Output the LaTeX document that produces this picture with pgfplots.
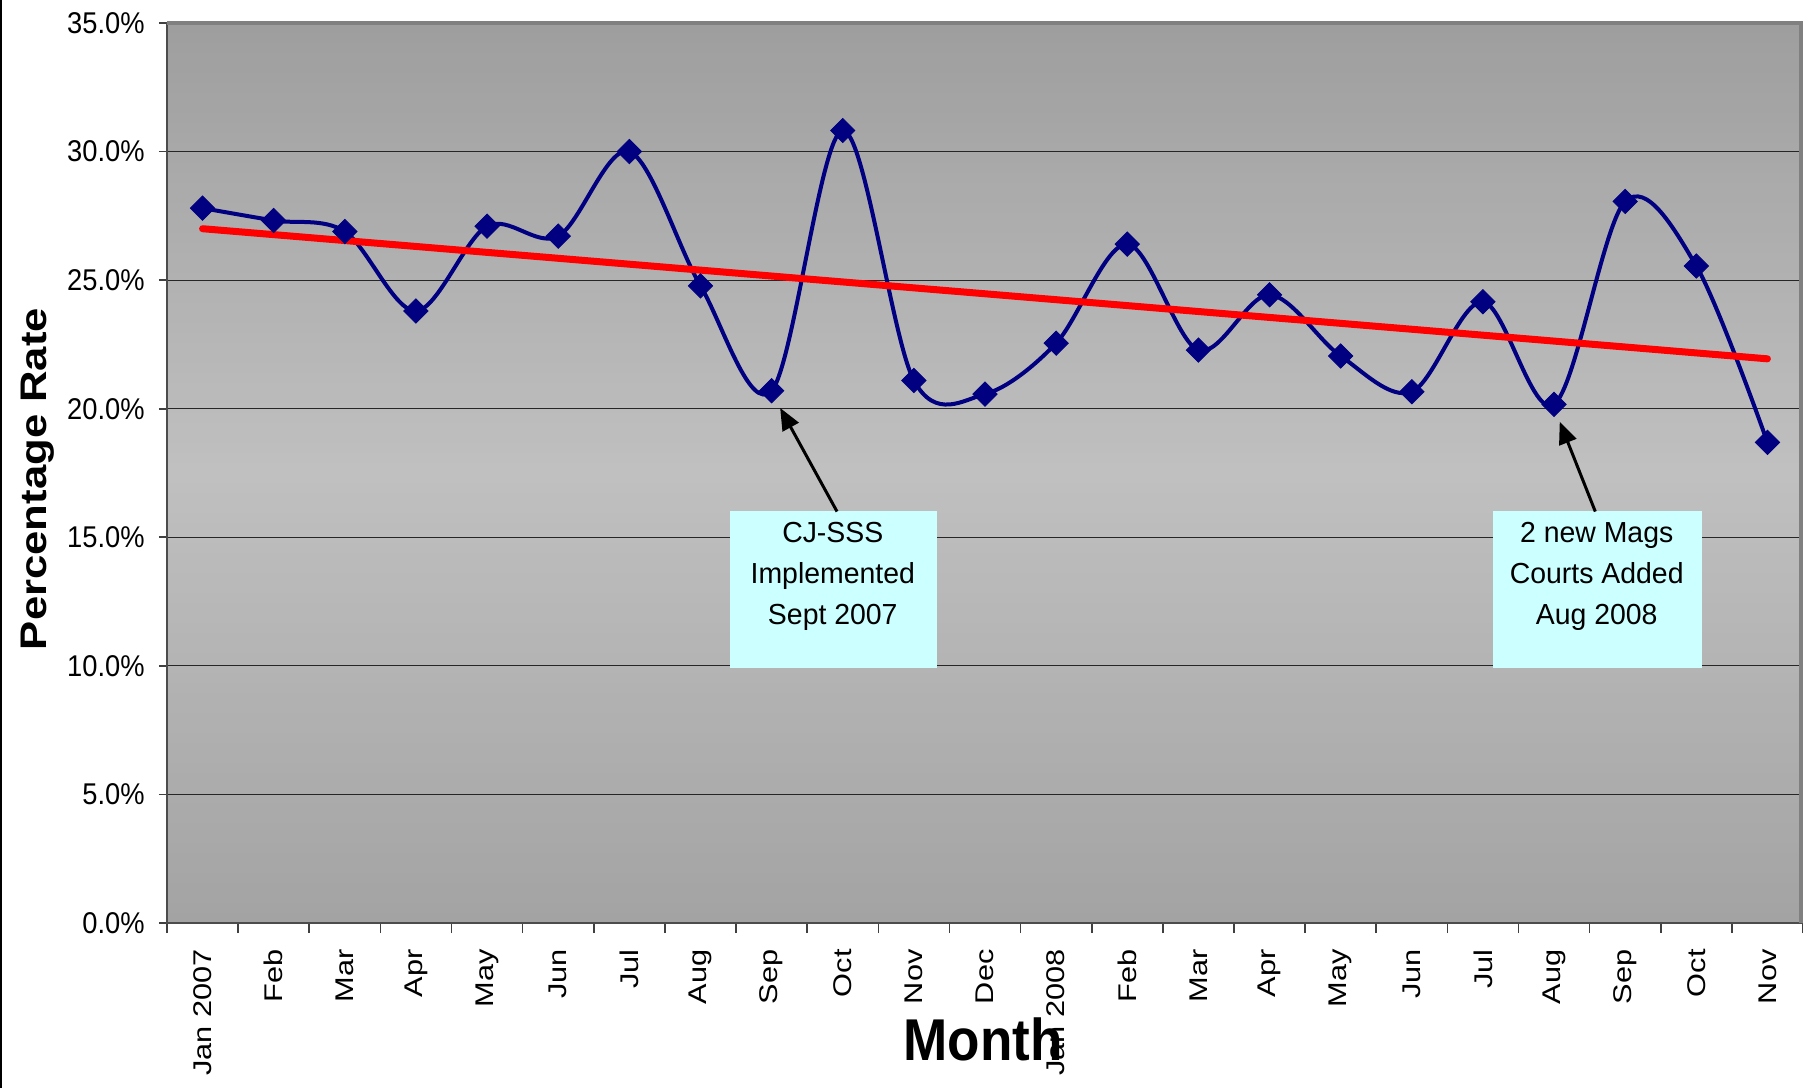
\documentclass[border=0pt]{standalone}
\usepackage{fontspec}
\setmainfont{Liberation Sans}
\newfontfamily\ytfont[FakeStretch=0.91]{Liberation Sans}
\newfontfamily\xtfont[FakeStretch=1.2]{Liberation Sans}
\newfontfamily\monthfont[FakeStretch=0.9]{Liberation Sans}
\newfontfamily\ylabfont[FakeStretch=1.18]{Liberation Sans}
\newfontfamily\annfont[FakeStretch=0.98]{Liberation Sans}
\usepackage{pgfplots}
\pgfplotsset{compat=1.18}
\usepackage{pgfplotstable}
\usetikzlibrary{arrows.meta}
\definecolor{navyline}{RGB}{0,0,128}
\definecolor{boxcyan}{RGB}{204,255,255}
\definecolor{bgtop}{RGB}{158,158,158}
\definecolor{bgmid}{RGB}{192,192,192}
\definecolor{bgbot}{RGB}{163,163,163}
\definecolor{frame}{RGB}{128,128,128}

\pgfplotstableread{
x y
0 27.80
1 27.32
2 26.89
3 23.80
4 27.10
5 26.71
6 30.00
7 24.78
8 20.70
9 30.82
10 21.10
11 20.57
12 22.55
13 26.40
14 22.28
15 24.43
16 22.05
17 20.66
18 24.16
19 20.17
20 28.06
21 25.55
22 18.69
}\ratedata

\begin{document}
\begin{tikzpicture}
\path[use as bounding box] (-83.5pt,-82.5pt) rectangle (818pt,461.5pt);
% vertical gradient background of the plot area, built from thin bands
\foreach \i in {0,...,89}{
  \pgfmathsetmacro{\t}{(\i+0.5)/90}
  \pgfmathsetmacro{\pa}{min(100,max(0,200*\t))}
  \pgfmathsetmacro{\pb}{min(100,max(0,200*(\t-0.5)))}
  \colorlet{bandc}{bgmid!\pa!bgbot}
  \ifdim\t pt<0.5pt\else\colorlet{bandc}{bgtop!\pb!bgmid}\fi
  \fill[bandc] (0,{\i*5pt}) rectangle (818pt,{(\i+1)*5pt+0.4pt});
}
\begin{axis}[
  at={(0,0)}, anchor=south west,
  scale only axis, width=818pt, height=450pt,
  xmin=-0.5, xmax=22.5, ymin=0, ymax=35,
  xtick={0,...,22},
  xticklabels={Jan 2007,Feb,Mar,Apr,May,Jun,Jul,Aug,Sep,Oct,Nov,Dec,Jan 2008,Feb,Mar,Apr,May,Jun,Jul,Aug,Sep,Oct,Nov},
  minor xtick={-0.5,0.5,...,22.5},
  ytick={0,5,...,35},
  yticklabels={0.0\%,5.0\%,10.0\%,15.0\%,20.0\%,25.0\%,30.0\%,35.0\%},
  tick pos=left,
  tick align=outside,
  major tick length=4pt, minor tick length=5pt,
  tick style={color=black!75, line width=0.8pt},
  major x tick style={draw=none},
  ymajorgrids, grid style={black!85, line width=0.6pt},
  axis line style={black!70, line width=1pt},
  xticklabel style={rotate=90, anchor=east, inner sep=0pt, font=\xtfont\fontsize{12.8}{14}\selectfont},
  yticklabel style={anchor=east, inner sep=0pt, font=\ytfont\fontsize{15}{17}\selectfont},
  xticklabel shift=9pt, yticklabel shift=7pt,
]
\addplot[smooth, tension=0.55, color=navyline, line width=2pt, mark=none] table {\ratedata};
\addplot[only marks, mark=square*, mark size=4.3pt, mark options={rotate=45, fill=navyline, draw=navyline}] table {\ratedata};
\addplot[color=red, line width=3.5pt, line cap=round, mark=none] coordinates {(0,27.00) (22,21.94)};

\fill[boxcyan] (axis cs:7.42,9.92) rectangle (axis cs:10.33,16.02);
\node[anchor=base, font=\annfont\fontsize{14.5}{17}\selectfont] at (axis cs:8.86,14.78) {CJ-SSS};
\node[anchor=base, font=\annfont\fontsize{14.5}{17}\selectfont] at (axis cs:8.86,13.19) {Implemented};
\node[anchor=base, font=\annfont\fontsize{14.5}{17}\selectfont] at (axis cs:8.86,11.59) {Sept 2007};
\draw[black, line width=1.5pt, -{Triangle[length=11pt,width=9pt]}] (axis cs:8.92,16.0) -- (axis cs:8.12,20.03);

\fill[boxcyan] (axis cs:18.14,9.92) rectangle (axis cs:21.08,16.02);
\node[anchor=base, font=\annfont\fontsize{14.5}{17}\selectfont] at (axis cs:19.60,14.78) {2 new Mags};
\node[anchor=base, font=\annfont\fontsize{14.5}{17}\selectfont] at (axis cs:19.60,13.19) {Courts Added};
\node[anchor=base, font=\annfont\fontsize{14.5}{17}\selectfont] at (axis cs:19.60,11.59) {Aug 2008};
\draw[black, line width=1.5pt, -{Triangle[length=11pt,width=9pt]}] (axis cs:19.58,16.0) -- (axis cs:19.08,19.49);
\end{axis}
\draw[frame, line width=2pt] (0,450pt) -- (817pt,450pt) -- (817pt,0);
\draw[black, line width=1pt] (-83pt,-82.5pt) -- (-83pt,461.5pt);
\node[anchor=base, font=\monthfont\bfseries\fontsize{29.5}{32}\selectfont] at (408pt,-68.9pt) {Month};
\node[anchor=base, rotate=90, font=\ylabfont\bfseries\fontsize{18.5}{20}\selectfont] at (-60pt,222pt) {Percentage Rate};
\end{tikzpicture}
\end{document}
